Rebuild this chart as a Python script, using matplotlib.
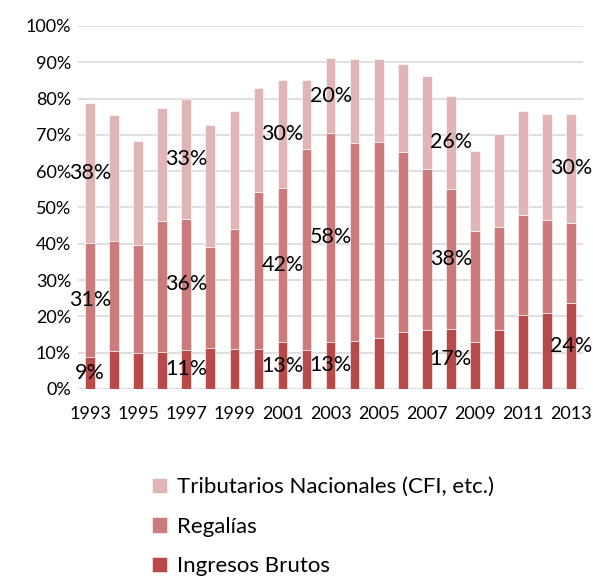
import matplotlib
matplotlib.use("Agg")
import matplotlib.pyplot as plt
import numpy as np

plt.rcParams['font.family'] = ['Lato', 'DejaVu Sans']

years = list(range(1993, 2014))
# stack tops (percent)
ingresos_top = [8.9, 10.5, 10.0, 10.3, 10.8, 11.4, 11.1, 11.1, 12.9, 10.8, 13.0,
                13.3, 14.1, 15.8, 16.3, 16.6, 13.0, 16.3, 20.5, 21.0, 23.8]
regalias_top = [40.1, 40.8, 39.7, 46.2, 46.8, 39.2, 44.1, 54.3, 55.4, 66.1, 70.5,
                67.8, 68.0, 65.3, 60.6, 55.1, 43.6, 44.7, 47.9, 46.5, 45.8]
total_top = [78.7, 75.4, 68.4, 77.3, 79.8, 72.7, 76.6, 83.0, 85.0, 85.0, 91.1,
             90.8, 90.8, 89.5, 86.3, 80.8, 65.6, 70.2, 76.5, 75.8, 75.7]

ingresos = np.array(ingresos_top)
regalias = np.array(regalias_top) - ingresos
tributarios = np.array(total_top) - np.array(regalias_top)

# labels shown on some bars: year -> (ingresos, regalias, tributarios)
bar_labels = {
    1993: ("9%", "31%", "38%"),
    1997: ("11%", "36%", "33%"),
    2001: ("13%", "42%", "30%"),
    2003: ("13%", "58%", "20%"),
    2008: ("17%", "38%", "26%"),
    2013: ("24%", None, "30%"),
}

c_ib = '#B84B4A'
c_reg = '#CB7B7B'
c_trib = '#E1B5B5'

fig = plt.figure(figsize=(5.93, 5.76), dpi=100)
ax = fig.add_axes([0.1315, 0.3247, 0.852, 0.6302])

x = np.arange(len(years))
w = 0.4
b1 = ax.bar(x, ingresos, w, color=c_ib, edgecolor='white', linewidth=0.4, label='Ingresos Brutos', zorder=3)
b2 = ax.bar(x, regalias, w, bottom=ingresos, color=c_reg, edgecolor='white', linewidth=0.4, label='Regalías', zorder=3)
b3 = ax.bar(x, tributarios, w, bottom=ingresos + regalias, color=c_trib, edgecolor='white', linewidth=0.4,
            label='Tributarios Nacionales (CFI, etc.)', zorder=3)

for yr, labs in bar_labels.items():
    i = years.index(yr)
    mids = [ingresos[i] / 2, ingresos[i] + regalias[i] / 2, ingresos[i] + regalias[i] + tributarios[i] / 2]
    for lab, m in zip(labs, mids):
        if lab:
            ax.text(i, m, lab, ha='center', va='center', fontsize=15.5, color='black', zorder=5)

ax.set_xlim(-0.5, len(years) - 0.5)
ax.set_ylim(0, 100)
ax.set_yticks(range(0, 101, 10))
ax.set_yticklabels([f"{v}%" for v in range(0, 101, 10)])
ax.set_xticks(x[::2])
ax.set_xticklabels([str(y) for y in years[::2]])
ax.tick_params(axis='both', length=0, labelsize=13, colors='black')
ax.tick_params(axis='y', pad=5)
ax.tick_params(axis='x', pad=12)
ax.grid(axis='y', color='#D9D9D9', linewidth=1.2, zorder=0)
for s in ax.spines.values():
    s.set_visible(False)

ax.legend(handles=[b3, b2, b1], loc='upper left', bbox_to_anchor=(0.222, 0.206),
          bbox_transform=fig.transFigure, frameon=False, fontsize=16,
          handlelength=0.7, handleheight=0.7, handletextpad=0.45, labelspacing=0.88)

fig.savefig('out.png', dpi=100)
